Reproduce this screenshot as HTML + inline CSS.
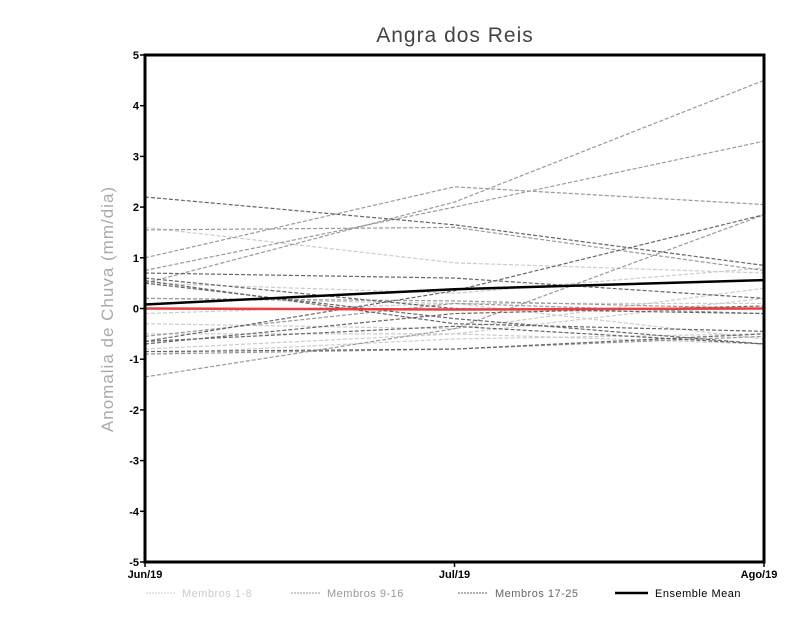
<!DOCTYPE html>
<html><head><meta charset="utf-8"><style>
html,body{margin:0;padding:0;background:#fff;}
svg{display:block;font-family:"Liberation Sans",sans-serif;}
</style></head><body>
<svg id="chart" width="800" height="618" viewBox="0 0 800 618">
<text x="455" y="42" font-size="21" fill="#444" text-anchor="middle" letter-spacing="1">Angra dos Reis</text>
<text transform="translate(113,309) rotate(-90)" font-size="17" fill="#aaa" text-anchor="middle" letter-spacing="1">Anomalia de Chuva (mm/dia)</text>
<g id="lines"></g>
<g id="axes"></g>
<g id="legend">
 <g><line x1="146" y1="593" x2="176" y2="593" stroke="#ccc" stroke-dasharray="2,1"/><text x="182" y="597" font-size="11" fill="#ccc" letter-spacing="0.5">Membros 1-8</text></g>
 <g><line x1="291" y1="593" x2="321" y2="593" stroke="#999" stroke-dasharray="2,1"/><text x="327" y="597" font-size="11" fill="#999" letter-spacing="0.5">Membros 9-16</text></g>
 <g><line x1="458" y1="593" x2="488" y2="593" stroke="#666" stroke-dasharray="2,1"/><text x="495" y="597" font-size="11" fill="#666" letter-spacing="0.5">Membros 17-25</text></g>
 <g><line x1="615" y1="593" x2="648" y2="593" stroke="#000" stroke-width="2.5"/><text x="655" y="597" font-size="11" fill="#000" letter-spacing="0.5">Ensemble Mean</text></g>
</g>
</svg>
<script>
const months = ["Jun/19","Jul/19","Ago/19"];
const yTicks = [-5,-4,-3,-2,-1,0,1,2,3,4,5];
const members1to8 = [[1.6,0.9,0.7],[0.5,0.3,0.8],[-0.3,-0.4,0.4],[-0.5,-0.5,0.2],[-0.9,-0.6,-0.5],[0.2,0.1,0.1],[-0.1,0.1,-0.6],[-0.8,-0.5,-0.7]];
const members9to16 = [[0.5,2.1,4.5],[1.0,2.4,2.05],[0.75,2.0,3.3],[-1.35,-0.4,1.85],[1.55,1.6,0.75],[-0.55,0.1,-0.1],[0.2,0.15,0.0],[-0.9,-0.8,-0.55]];
const members17to25 = [[2.2,1.65,0.85],[0.7,0.6,0.2],[0.55,-0.3,-0.45],[0.5,-0.2,-0.7],[-0.65,0.35,1.85],[-0.7,-0.1,0.05],[-0.85,-0.8,-0.5],[0.6,0.0,-0.1],[-0.65,-0.35,-0.7]];
const ensembleMean = [0.08,0.38,0.56];
const observed = [0.0,-0.02,0.0];

const X0=145,X1=764,Y0=55,Y1=562;
const xs=i=>X0+(X1-X0)*i/(months.length-1);
const ys=v=>Y1-(v+5)/10*(Y1-Y0);
const NS="http://www.w3.org/2000/svg";
const lines=document.getElementById('lines'), axes=document.getElementById('axes');
function poly(vals,stroke,w,dash,name){
  const p=document.createElementNS(NS,'polyline');
  p.setAttribute('points',vals.map((v,i)=>xs(i)+','+ys(v)).join(' '));
  p.setAttribute('fill','none');p.setAttribute('stroke',stroke);p.setAttribute('stroke-width',w);
  if(dash)p.setAttribute('stroke-dasharray',dash);
  
  
  lines.appendChild(p);
}
members1to8.forEach((m,i)=>poly(m,'#ccc',1.2,'4,2','member-line-'+(i+1)));
members9to16.forEach((m,i)=>poly(m,'#999',1.2,'4,2','member-line-'+(i+9)));
members17to25.forEach((m,i)=>poly(m,'#666',1.2,'4,2','member-line-'+(i+17)));
poly(observed,'#e84040',2.5,null,'zero-reference-line');
poly(ensembleMean,'#000',2.5,null,'ensemble-mean-line');

const fr=document.createElementNS(NS,'rect');
fr.setAttribute('x',X0);fr.setAttribute('y',Y0);fr.setAttribute('width',X1-X0);fr.setAttribute('height',Y1-Y0);
fr.setAttribute('fill','none');fr.setAttribute('stroke','#000');fr.setAttribute('stroke-width','3');


axes.appendChild(fr);
yTicks.forEach(t=>{
  const l=document.createElementNS(NS,'line');
  l.setAttribute('x1',X0-5);l.setAttribute('x2',X0);l.setAttribute('y1',ys(t));l.setAttribute('y2',ys(t));l.setAttribute('stroke','#000');l.setAttribute('stroke-width','1.5');
  
  
  axes.appendChild(l);
  const tx=document.createElementNS(NS,'text');
  tx.setAttribute('x',X0-6);tx.setAttribute('y',ys(t)+4);tx.setAttribute('text-anchor','end');
  tx.setAttribute('font-size','11');tx.setAttribute('font-weight','bold');
  tx.textContent=t;
  
  
  axes.appendChild(tx);
});
months.forEach((m,i)=>{
  const l=document.createElementNS(NS,'line');
  l.setAttribute('x1',xs(i));l.setAttribute('x2',xs(i));l.setAttribute('y1',Y1);l.setAttribute('y2',Y1+5);l.setAttribute('stroke','#000');l.setAttribute('stroke-width','1.5');
  
  
  axes.appendChild(l);
  const tx=document.createElementNS(NS,'text');
  tx.setAttribute('x',xs(i)+(i===months.length-1?-5:0));tx.setAttribute('y',Y1+16);tx.setAttribute('text-anchor','middle');
  tx.setAttribute('font-size','11');tx.setAttribute('font-weight','bold');
  tx.textContent=m;
  
  
  axes.appendChild(tx);
});
</script>
</body></html>
